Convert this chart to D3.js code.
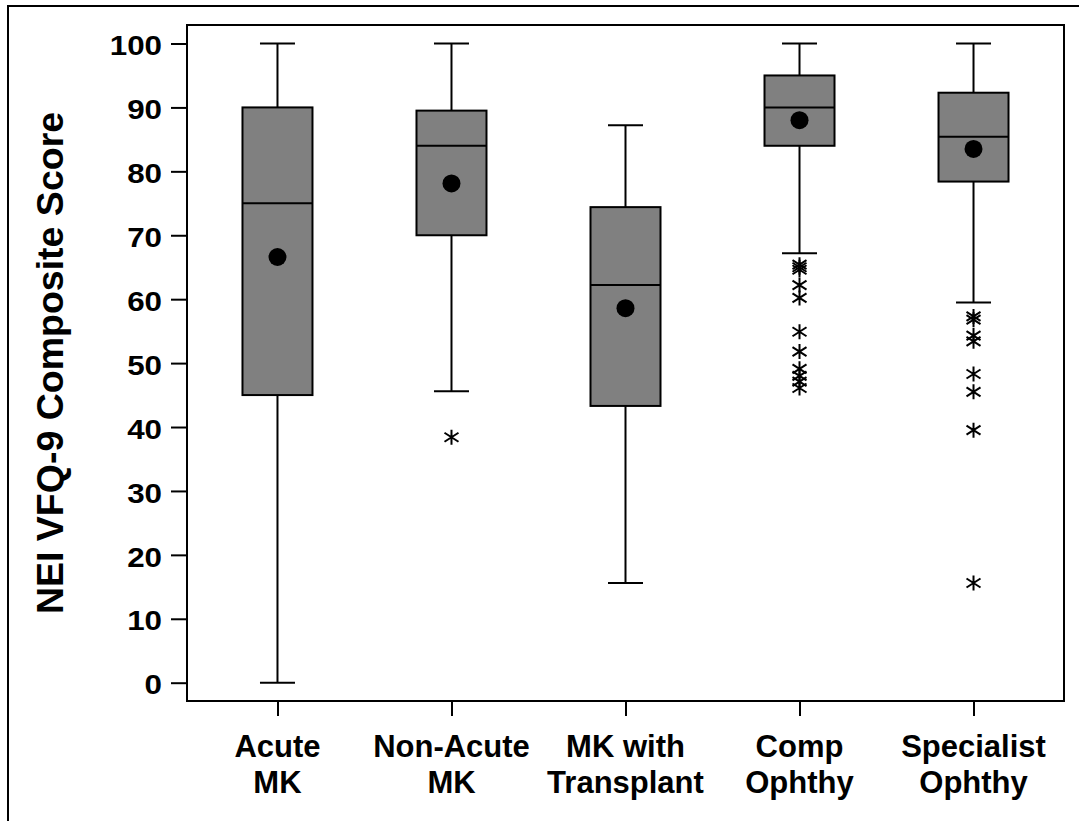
<!DOCTYPE html>
<html>
<head>
<meta charset="utf-8">
<script src="https://cdn.jsdelivr.net/npm/d3@7"></script>
<style>
  body { margin: 0; background: #fff; }
  text { font-family: "Liberation Sans", Arial, sans-serif; font-weight: bold; fill: #000; }
</style>
</head>
<body>
<div id="chart"></div>
<script>
// data
const categories = ["Acute MK", "Non-Acute MK", "MK with Transplant", "Comp Ophthy", "Specialist Ophthy"]
const labelLines = [["Acute", "MK"], ["Non-Acute", "MK"], ["MK with", "Transplant"], ["Comp", "Ophthy"], ["Specialist", "Ophthy"]]
const whiskerLow = [0, 45.6, 15.6, 67.2, 59.5]
const q1 = [45, 70, 43.3, 84, 78.4]
const median = [75, 84, 62.2, 90, 85.4]
const q3 = [90, 89.5, 74.4, 95, 92.3]
const whiskerHigh = [100, 100, 87.2, 100, 100]
const means = [66.6, 78.1, 58.6, 88, 83.5]
const outliers = [
  [],
  [38.4],
  [],
  [65.4, 65.0, 64.6, 62.2, 60.2, 54.9, 51.8, 49.1, 48.0, 47.1, 46.1],
  [57.3, 56.8, 54.3, 53.4, 48.3, 45.5, 39.5, 15.6]
]
const yTicks = [0, 10, 20, 30, 40, 50, 60, 70, 80, 90, 100]

// layout
const width = 1079
const height = 821
const frame = {left: 187, right: 1064, top: 25, bottom: 701}
const boxWidth = 70
const capWidth = 35
const tickStretch = 1.12   // tick numbers are drawn a bit wide in the original

const svg = d3.select("#chart").append("svg")
  .attr("width", width)
  .attr("height", height)

// outer border (runs off the right and bottom edges)
svg.append("rect")
  .attr("x", 8).attr("y", 6)
  .attr("width", 1100).attr("height", 860)
  .attr("fill", "none").attr("stroke", "#000").attr("stroke-width", 2)

const x = d3.scalePoint().domain(categories).range([frame.left, frame.right]).padding(0.52)
const y = d3.scaleLinear().domain([0, 100]).range([682.7, 43.5])

// plot frame
svg.append("rect")
  .attr("x", frame.left).attr("y", frame.top)
  .attr("width", frame.right - frame.left).attr("height", frame.bottom - frame.top)
  .attr("fill", "none").attr("stroke", "#000").attr("stroke-width", 2)

// y axis
const yAxis = svg.append("g")
  .attr("transform", `translate(${frame.left},0)`)
  .call(d3.axisLeft(y).tickValues(yTicks).tickSize(16))
yAxis.select(".domain").remove()
yAxis.selectAll("line").attr("stroke", "#000").attr("stroke-width", 2)
yAxis.selectAll("text")
  .attr("font-size", 28)
  .attr("font-family", null)
  .attr("x", -25 / tickStretch)
  .attr("dy", "0.4em")
  .attr("transform", `scale(${tickStretch},1)`)

// x axis
const xAxis = svg.append("g")
  .attr("transform", `translate(0,${frame.bottom})`)
  .call(d3.axisBottom(x).tickSize(15).tickFormat(""))
xAxis.select(".domain").remove()
xAxis.selectAll("line").attr("stroke", "#000").attr("stroke-width", 2)

// category labels on two lines
categories.forEach((c, i) => {
  const t = svg.append("text")
    .attr("x", x(c))
    .attr("text-anchor", "middle")
    .attr("font-size", 31)
  labelLines[i].forEach((line, j) => {
    t.append("tspan").attr("x", x(c)).attr("y", 757 + j * 36).text(line)
  })
})

// y title
svg.append("text")
  .attr("transform", `translate(63,363) rotate(-90)`)
  .attr("text-anchor", "middle")
  .attr("font-size", 37.5)
  .text("NEI VFQ-9 Composite Score")

// boxes
const groups = svg.selectAll("g.box")
  .data(categories)
  .enter()
  .append("g")
  .attr("class", "box")

// whisker stems
groups.append("line")
  .attr("x1", d => x(d)).attr("x2", d => x(d))
  .attr("y1", (d, i) => y(whiskerHigh[i])).attr("y2", (d, i) => y(whiskerLow[i]))
  .attr("stroke", "#000").attr("stroke-width", 2)

// caps
groups.selectAll("line.cap")
  .data((d, i) => [whiskerLow[i], whiskerHigh[i]].map(v => ({c: d, v: v})))
  .enter()
  .append("line")
  .attr("class", "cap")
  .attr("x1", d => x(d.c) - capWidth / 2).attr("x2", d => x(d.c) + capWidth / 2)
  .attr("y1", d => y(d.v)).attr("y2", d => y(d.v))
  .attr("stroke", "#000").attr("stroke-width", 2)

groups.append("rect")
  .attr("x", d => x(d) - boxWidth / 2)
  .attr("y", (d, i) => y(q3[i]))
  .attr("width", boxWidth)
  .attr("height", (d, i) => y(q1[i]) - y(q3[i]))
  .attr("fill", "#808080").attr("stroke", "#000").attr("stroke-width", 2)

groups.append("line")
  .attr("x1", d => x(d) - boxWidth / 2).attr("x2", d => x(d) + boxWidth / 2)
  .attr("y1", (d, i) => y(median[i])).attr("y2", (d, i) => y(median[i]))
  .attr("stroke", "#000").attr("stroke-width", 2)

groups.append("circle")
  .attr("cx", d => x(d))
  .attr("cy", (d, i) => y(means[i]))
  .attr("r", 9)
  .attr("fill", "#000")

// outliers as asterisks
const star = "M0,-7.5L0,7.5M-7,-4.5L7,4.5M-7,4.5L7,-4.5"
groups.selectAll("path.outlier")
  .data((d, i) => outliers[i].map(v => ({c: d, v: v})))
  .enter()
  .append("path")
  .attr("class", "outlier")
  .attr("d", star)
  .attr("transform", d => `translate(${x(d.c)},${y(d.v)})`)
  .attr("fill", "none").attr("stroke", "#000").attr("stroke-width", 2)
</script>
</body>
</html>
